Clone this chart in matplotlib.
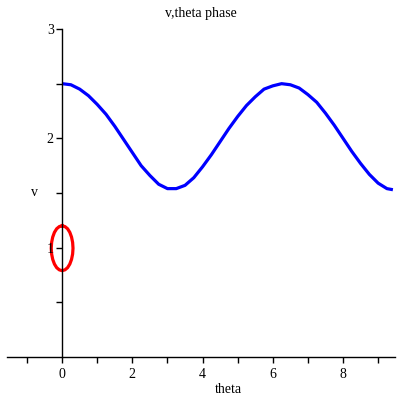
import matplotlib
matplotlib.use('Agg')
import matplotlib.pyplot as plt
from matplotlib.ticker import FixedLocator

# blue curve: v against theta
theta = [0, 0.25, 0.5, 0.75, 1.0, 1.25, 1.5, 1.75, 2.0, 2.25, 2.5, 2.75, 3.0,
         3.25, 3.5, 3.75, 4.0, 4.25, 4.5, 4.75, 5.0, 5.25, 5.5, 5.75, 6.0,
         6.25, 6.5, 6.75, 7.0, 7.25, 7.5, 7.75, 8.0, 8.25, 8.5, 8.75, 9.0,
         9.25, 9.42]
v = [2.50, 2.49, 2.45, 2.39, 2.31, 2.22, 2.11, 1.99, 1.87, 1.75, 1.66, 1.58,
     1.54, 1.54, 1.57, 1.64, 1.74, 1.85, 1.97, 2.09, 2.20, 2.30, 2.38, 2.45,
     2.48, 2.50, 2.49, 2.46, 2.40, 2.33, 2.23, 2.12, 2.00, 1.88, 1.77, 1.67,
     1.59, 1.54, 1.53]

# red closed orbit around (0, 1)
orbit_theta = [0, 0.08, 0.155, 0.219, 0.268, 0.299, 0.31, 0.299, 0.268, 0.219,
               0.155, 0.08, 0, -0.08, -0.155, -0.219, -0.268, -0.299, -0.31,
               -0.299, -0.268, -0.219, -0.155, -0.08, 0]
orbit_v = [1.20, 1.193, 1.173, 1.14, 1.097, 1.048, 0.995, 0.942, 0.893, 0.85,
           0.817, 0.797, 0.79, 0.797, 0.817, 0.85, 0.893, 0.942, 0.995, 1.048,
           1.097, 1.14, 1.173, 1.193, 1.20]

x_labels = [0, 2, 4, 6, 8]
y_labels = [1, 2, 3]

plt.rcParams['font.family'] = ['Liberation Serif', 'DejaVu Serif']

fig = plt.figure(figsize=(4, 4), dpi=100)
ax = fig.add_axes([0.0175, 0.1075, 0.97, 0.82])

ax.plot(theta, v, color='#0000ff', linewidth=2.3, solid_capstyle='butt')
ax.plot(orbit_theta, orbit_v, color='#ff0000', linewidth=2.3, zorder=1.5)

ax.set_xlim(-1.57, 9.48)
ax.set_ylim(0, 3)

# axes through the origin
ax.spines['left'].set_position(('data', 0))
ax.spines['bottom'].set_position(('data', 0))
ax.spines['top'].set_visible(False)
ax.spines['right'].set_visible(False)
for s in ('left', 'bottom'):
    ax.spines[s].set_linewidth(1.0)
    ax.spines[s].set_color('black')

ax.xaxis.set_major_locator(FixedLocator(x_labels))
ax.xaxis.set_minor_locator(FixedLocator([-1, 1, 3, 5, 7, 9]))
ax.set_xticklabels([str(t) for t in x_labels])
ax.yaxis.set_major_locator(FixedLocator(y_labels))
ax.yaxis.set_minor_locator(FixedLocator([0.5, 1.5, 2.5]))
ax.set_yticklabels([str(t) for t in y_labels])

ax.tick_params(which='both', direction='out', length=4, width=1, color='black',
               labelsize=10)
ax.tick_params(axis='x', pad=4)
ax.tick_params(axis='y', pad=2)

ax.set_xlabel('theta', fontsize=10)
ax.xaxis.set_label_coords(0.57, -0.08)
ax.set_ylabel('v', fontsize=10, rotation=0, va='center')
ax.yaxis.set_label_coords(0.072, 0.503)

fig.text(0.503, 0.967, 'v,theta phase', ha='center', va='center', fontsize=10)

fig.savefig('out.png', dpi=100)
